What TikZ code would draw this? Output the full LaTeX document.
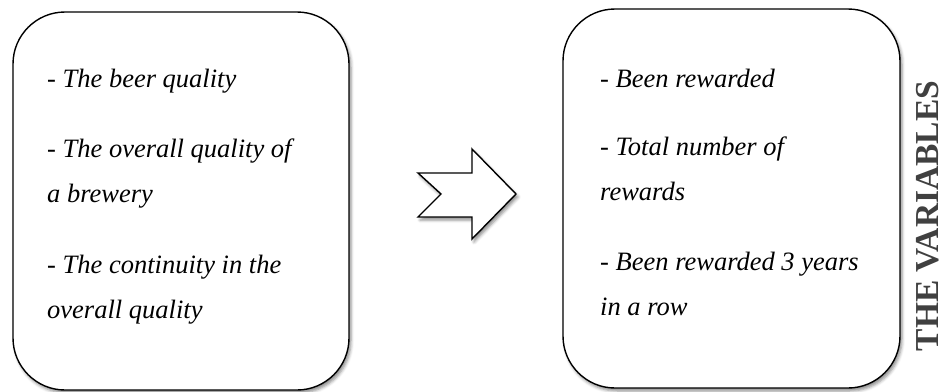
\documentclass[tikz,border=0pt]{standalone}
\usepackage{fontspec}
\setmainfont{Liberation Serif}
\usetikzlibrary{shadows.blur}
\definecolor{titlegrey}{HTML}{404040}
\begin{document}
\begin{tikzpicture}[x=1pt,y=1pt,
  softshadow/.style={blur shadow={shadow xshift=2pt,shadow yshift=-3pt,shadow blur radius=3pt,shadow opacity=45}},
  varbox/.style={draw=black,line width=1.4pt,rounded corners=52pt,fill=white,softshadow,inner sep=0pt},
  itemtext/.style={anchor=north west,inner sep=0pt,align=left,
    font=\fontsize{26.5}{45}\selectfont\itshape},
  title/.style={anchor=base,rotate=90,inner sep=0pt,text depth=0pt,text=titlegrey,
    font=\fontsize{33.5}{40}\selectfont\bfseries}]
  \useasboundingbox (0,0) rectangle (940,-391);

  % the two groups of variables
  \node[varbox,minimum width=336pt,minimum height=378pt] (left) at (181,-201) {};
  \node[varbox,minimum width=337pt,minimum height=379pt] (right) at (731.5,-198.5) {};

  \node[itemtext] (lt) at (47,-69) {- The beer quality\\[25pt]
    - The overall quality of\\ a brewery\\[26pt]
    - The continuity in the\\ overall quality};
  \node[itemtext] (rt) at (600,-69) {- Been rewarded\\[23pt]
    - Total number of\\ rewards\\[25pt]
    - Been rewarded 3 years\\ in a row};

  % block arrow between the groups
  \coordinate (tip) at (516,-194);
  \filldraw[fill=white,draw=black,line width=1.4pt,line join=miter,softshadow]
    (418,-173) -- (472,-173) -- (472,-149) -- (tip) -- (472,-239)
    -- (472,-217) -- (418,-217) -- (441,-194) -- cycle;

  \node[title] (ttl) at (938,-216) {THE VARIABLES};
\end{tikzpicture}
\end{document}
